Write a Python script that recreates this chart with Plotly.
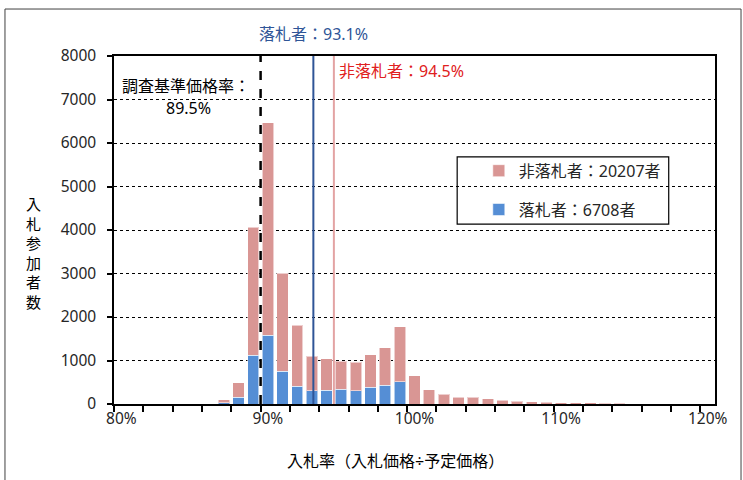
import plotly.graph_objects as go

# ---- data ----
rates = list(range(80, 121))  # bid rate bins, %
winners = [0, 0, 0, 0, 0, 0, 0, 25, 155, 1120, 1580, 750, 405, 300, 320, 337, 300, 385, 436, 510,
           0, 0, 0, 0, 0, 0, 0, 0, 0, 0, 0, 0, 0, 0, 0, 0, 0, 0, 0, 0, 0]
totals = [0, 0, 0, 0, 0, 0, 0, 100, 490, 4060, 6460, 3010, 1815, 1095, 1035, 980, 960, 1135, 1290, 1780,
          650, 330, 225, 152, 152, 118, 88, 65, 48, 46, 30, 28, 26, 22, 20, 0, 0, 0, 0, 0, 0]
nonwinners = [t - w for t, w in zip(totals, winners)]

base_rate = 89.5        # 調査基準価格率
winner_avg = 93.1       # 落札者 average
nonwinner_avg = 94.5    # 非落札者 average
x_tick_vals = [80, 90, 100, 110, 120]
x_tick_text = ["80%", "90%", "100%", "110%", "120%"]

PINK = "#D99694"
BLUE = "#558ED5"
FONT = "Noto Sans, Noto Sans CJK JP"
TS = 16

fig = go.Figure()
fig.add_trace(go.Bar(x=rates, y=winners, name="落札者：6708者", marker=dict(color=BLUE,
                     line=dict(color="rgba(255,255,255,0.55)", width=1)),
                     legendgroup="b", legendrank=2))
fig.add_trace(go.Bar(x=rates, y=nonwinners, name="非落札者：20207者", marker=dict(color=PINK,
                     line=dict(color="rgba(255,255,255,0.55)", width=1)),
                     legendgroup="a", legendrank=1))

# reference lines
fig.add_shape(type="line", x0=base_rate, x1=base_rate, yref="y domain", y0=0, y1=1,
              line=dict(color="black", width=2.5, dash="dash"))
fig.add_shape(type="line", x0=winner_avg, x1=winner_avg, yref="y domain", y0=0, y1=1,
              line=dict(color="#2F5597", width=2))
fig.add_shape(type="line", x0=nonwinner_avg, x1=nonwinner_avg, yref="y domain", y0=0, y1=1,
              line=dict(color="#E3A3A3", width=2))

# legend box
fig.add_shape(type="rect", xref="paper", yref="paper", x0=0.571, x1=0.923, y0=0.517, y1=0.71,
              line=dict(color="black", width=1.2), fillcolor="white", layer="below")

# outer frame
fig.add_shape(type="rect", xref="paper", yref="paper", x0=-0.1814, x1=1.0433, y0=-0.3, y1=1.135,
              line=dict(color="#404040", width=1))

ann = []
ann.append(dict(x=winner_avg, y=(404 - 34) / 348, xref="x", yref="paper", text=f"落札者：{winner_avg}%",
                showarrow=False, font=dict(color="#2F5597", size=TS, family=FONT),
                xanchor="center", yanchor="middle"))
ann.append(dict(x=nonwinner_avg, y=(404 - 71) / 348, xref="x", yref="paper", text=f"非落札者：{nonwinner_avg}%",
                showarrow=False, font=dict(color="#E02020", size=TS, family=FONT),
                xanchor="left", yanchor="middle", xshift=3))
ann.append(dict(x=(186 - 114) / 601, y=(404 - 86) / 348, xref="paper", yref="paper", text="調査基準価格率：",
                showarrow=False, font=dict(color="black", size=TS, family=FONT),
                xanchor="center", yanchor="middle"))
ann.append(dict(x=(188 - 114) / 601, y=(404 - 108) / 348, xref="paper", yref="paper", text=f"{base_rate}%",
                showarrow=False, font=dict(color="black", size=TS, family=FONT),
                xanchor="center", yanchor="middle"))
ann.append(dict(x=(33 - 114) / 601, y=(404 - 253) / 348, xref="paper", yref="paper",
                text="<br>".join("入札参加者数"), showarrow=False,
                font=dict(color="black", size=15, family=FONT), xanchor="center", yanchor="middle"))
ann.append(dict(x=(395 - 114) / 601, y=(404 - 461) / 348, xref="paper", yref="paper",
                text="入札率（入札価格÷予定価格）", showarrow=False,
                font=dict(color="black", size=TS, family=FONT), xanchor="center", yanchor="middle"))

fig.update_layout(
    width=743, height=480,
    margin=dict(l=114, r=28, t=56, b=76),
    paper_bgcolor="white", plot_bgcolor="white",
    barmode="stack", bargap=0.22,
    font=dict(family=FONT, size=15, color="#262626"),
    annotations=ann,
    legend=dict(x=0.607, y=0.719, xanchor="left", yanchor="top", bgcolor="rgba(0,0,0,0)",
                traceorder="grouped", tracegroupgap=15,
                font=dict(size=TS, color="#262626")),
    showlegend=True,
)
fig.update_xaxes(range=[79.5, 120.5], tickvals=x_tick_vals, ticktext=x_tick_text, ticks="",
                 showline=True, linecolor="black", linewidth=1.5, mirror=True, showgrid=False,
                 zeroline=False,
                 minor=dict(tick0=79.5, dtick=2, ticks="outside", ticklen=6, tickcolor="black",
                            tickwidth=1.5, showgrid=False),
                 tickfont=dict(size=15.5, color="#262626"))
fig.update_yaxes(range=[0, 8000], dtick=1000, ticks="outside", ticklen=5, tickcolor="black",
                 tickwidth=1.5, showline=True, linecolor="black", linewidth=1.5, mirror=True,
                 showgrid=True, gridcolor="black", griddash="dot", gridwidth=1, zeroline=False,
                 ticklabelstandoff=8, tickfont=dict(size=15.5, color="#262626"))

fig.write_html("out.html", config={"displayModeBar": False},
               post_script="document.body.style.margin='0';document.body.style.overflow='hidden';")
